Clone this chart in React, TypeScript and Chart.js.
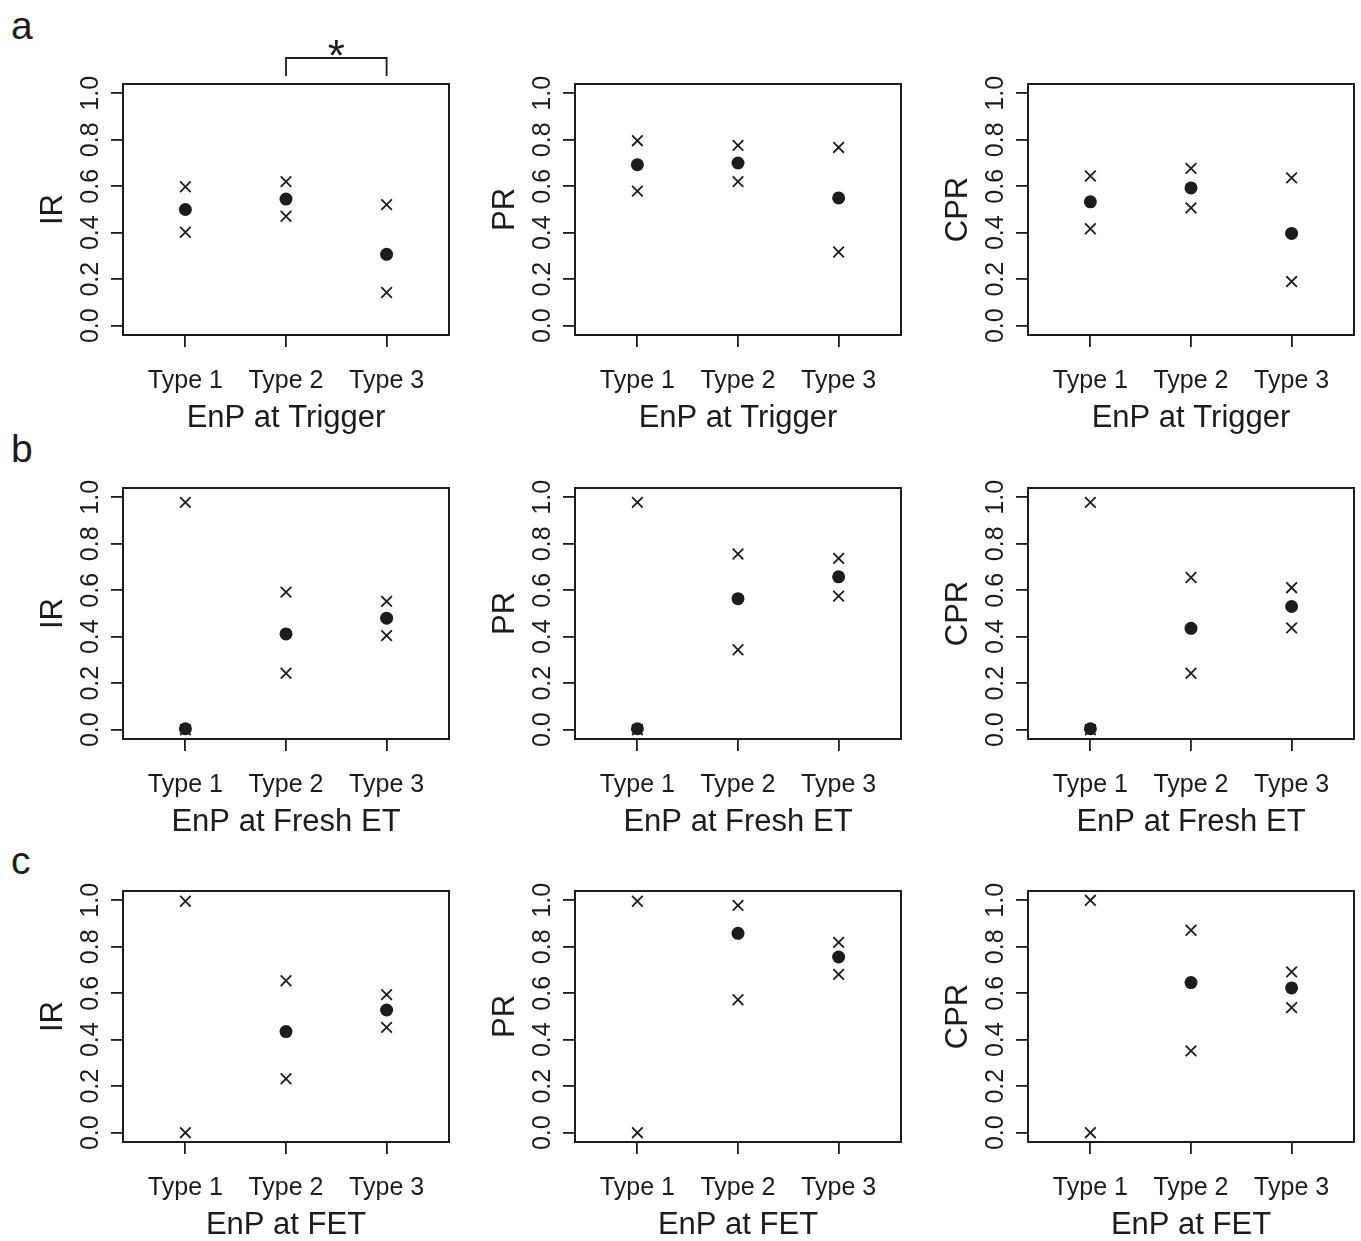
import React, { useEffect, useRef } from "react";
import { Chart, registerables } from "chart.js";

Chart.register(...registerables);

// ---------- data ----------
const categories = ["Type 1", "Type 2", "Type 3"];
const yTicks = [0, 0.2, 0.4, 0.6, 0.8, 1.0];
const metricLabels = ["IR", "PR", "CPR"];
const timingLabels = ["EnP at Trigger", "EnP at Fresh ET", "EnP at FET"];
const panelLetters = ["a", "b", "c"];

// row a: EnP at Trigger
const irTriggerEst = [0.5, 0.545, 0.307];
const irTriggerUpper = [0.598, 0.62, 0.521];
const irTriggerLower = [0.402, 0.471, 0.143];
const prTriggerEst = [0.693, 0.7, 0.55];
const prTriggerUpper = [0.796, 0.776, 0.767];
const prTriggerLower = [0.579, 0.62, 0.317];
const cprTriggerEst = [0.533, 0.593, 0.397];
const cprTriggerUpper = [0.644, 0.677, 0.636];
const cprTriggerLower = [0.417, 0.507, 0.19];

// row b: EnP at Fresh ET
const irFreshEst = [0.004, 0.412, 0.48];
const irFreshUpper = [0.978, 0.592, 0.552];
const irFreshLower = [0.0, 0.243, 0.405];
const prFreshEst = [0.004, 0.564, 0.658];
const prFreshUpper = [0.978, 0.756, 0.737];
const prFreshLower = [0.0, 0.344, 0.575];
const cprFreshEst = [0.004, 0.436, 0.53];
const cprFreshUpper = [0.978, 0.655, 0.611];
const cprFreshLower = [0.0, 0.243, 0.438];

// row c: EnP at FET (no point estimate for Type 1)
const irFetEst = [null, 0.435, 0.528];
const irFetUpper = [0.996, 0.654, 0.594];
const irFetLower = [0.0, 0.232, 0.453];
const prFetEst = [null, 0.858, 0.756];
const prFetUpper = [0.996, 0.978, 0.819];
const prFetLower = [0.0, 0.572, 0.681];
const cprFetEst = [null, 0.646, 0.623];
const cprFetUpper = [1.0, 0.871, 0.692];
const cprFetLower = [0.0, 0.352, 0.538];

// significance bracket (panel a, IR)
const sigPair = ["Type 2", "Type 3"];
const sigLabel = "*";

const rows = [
  [
    [irTriggerEst, irTriggerUpper, irTriggerLower],
    [prTriggerEst, prTriggerUpper, prTriggerLower],
    [cprTriggerEst, cprTriggerUpper, cprTriggerLower],
  ],
  [
    [irFreshEst, irFreshUpper, irFreshLower],
    [prFreshEst, prFreshUpper, prFreshLower],
    [cprFreshEst, cprFreshUpper, cprFreshLower],
  ],
  [
    [irFetEst, irFetUpper, irFetLower],
    [prFetEst, prFetUpper, prFetLower],
    [cprFetEst, cprFetUpper, cprFetLower],
  ],
];

// ---------- styling / layout ----------
const INK = "#1c1c1c";
const FONT = "'Liberation Sans', Arial, Helvetica, sans-serif";
const CANVAS_W = 452;
const CANVAS_H = 410;
const colLefts = [1, 453, 906];
const rowTops = [24, 428, 831];
const letterTops = [6, 429, 841];

const toPoints = (vals: (number | null)[]) =>
  vals
    .map((v, i) => (v === null ? null : { x: i + 1, y: v }))
    .filter((p) => p !== null);

const boxPlugin = {
  id: "plotBox",
  beforeDatasetsDraw(chart: any) {
    const { ctx, chartArea: a } = chart;
    ctx.save();
    ctx.strokeStyle = INK;
    ctx.lineWidth = 2;
    ctx.strokeRect(a.left, a.top, a.right - a.left, a.bottom - a.top);
    ctx.restore();
  },
};

const bracketPlugin = {
  id: "sigBracket",
  afterDraw(chart: any) {
    const { ctx, chartArea: a } = chart;
    const xs = chart.scales.x;
    const x1 = xs.getPixelForValue(categories.indexOf(sigPair[0]) + 1);
    const x2 = xs.getPixelForValue(categories.indexOf(sigPair[1]) + 1);
    const yLow = a.top - 8;
    const yHigh = a.top - 26;
    ctx.save();
    ctx.strokeStyle = INK;
    ctx.lineWidth = 1.8;
    ctx.beginPath();
    ctx.moveTo(x1, yLow);
    ctx.lineTo(x1, yHigh);
    ctx.lineTo(x2, yHigh);
    ctx.lineTo(x2, yLow);
    ctx.stroke();
    ctx.fillStyle = INK;
    ctx.font = `44px ${FONT}`;
    ctx.textAlign = "center";
    ctx.textBaseline = "alphabetic";
    ctx.fillText(sigLabel, (x1 + x2) / 2, a.top - 13);
    ctx.restore();
  },
};

type PanelProps = {
  left: number;
  top: number;
  est: (number | null)[];
  upper: number[];
  lower: number[];
  yTitle: string;
  xTitle: string;
  sig: boolean;
};

function Panel({ left, top, est, upper, lower, yTitle, xTitle, sig }: PanelProps) {
  const ref = useRef<HTMLCanvasElement | null>(null);
  useEffect(() => {
    if (!ref.current) return;
    const tickFont = { family: FONT, size: 25 };
    const titleFont = { family: FONT, size: 31, lineHeight: 1 };
    const chart = new Chart(ref.current, {
      type: "scatter",
      data: {
        datasets: [
          {
            label: "estimate",
            data: toPoints(est) as any,
            pointStyle: "circle",
            pointRadius: 6.5,
            pointBackgroundColor: INK,
            pointBorderColor: INK,
            pointBorderWidth: 0,
            order: 0,
          },
          {
            label: "upper",
            data: toPoints(upper) as any,
            pointStyle: "crossRot",
            pointRadius: 7.5,
            pointBorderColor: INK,
            pointBackgroundColor: INK,
            pointBorderWidth: 1.8,
            order: 1,
          },
          {
            label: "lower",
            data: toPoints(lower) as any,
            pointStyle: "crossRot",
            pointRadius: 7.5,
            pointBorderColor: INK,
            pointBackgroundColor: INK,
            pointBorderWidth: 1.8,
            order: 2,
          },
        ],
      },
      options: {
        responsive: false,
        animation: false,
        events: [],
        layout: { autoPadding: false, padding: { left: 0, right: 4, top: 60, bottom: 0 } },
        plugins: {
          legend: { display: false },
          tooltip: { enabled: false },
        },
        scales: {
          x: {
            type: "linear",
            min: 0.38,
            max: 3.62,
            afterBuildTicks: (s: any) => {
              s.ticks = categories.map((_, i) => ({ value: i + 1 }));
            },
            afterFit: (s: any) => {
              s.height = CANVAS_H - 60 - 251;
              s.paddingLeft = 0;
              s.paddingRight = 0;
            },
            ticks: {
              autoSkip: false,
              minRotation: 0,
              maxRotation: 0,
              padding: 19,
              color: INK,
              font: tickFont,
              callback: (v: any) => categories[Math.round(Number(v)) - 1] ?? "",
            },
            grid: {
              drawOnChartArea: false,
              drawTicks: true,
              tickLength: 12,
              color: INK,
              lineWidth: 1.8,
            },
            border: { display: false },
            title: {
              display: true,
              text: xTitle,
              color: INK,
              font: titleFont,
              padding: { top: 0, bottom: 0 },
            },
          },
          y: {
            type: "linear",
            min: -0.04,
            max: 1.04,
            afterBuildTicks: (s: any) => {
              s.ticks = yTicks.map((v) => ({ value: v }));
            },
            afterFit: (s: any) => {
              s.width = 122;
              s.paddingTop = 0;
              s.paddingBottom = 0;
            },
            ticks: {
              autoSkip: false,
              minRotation: 90,
              maxRotation: 90,
              crossAlign: "center",
              padding: 3,
              color: INK,
              font: tickFont,
              callback: (v: any) => Number(v).toFixed(1),
            },
            grid: {
              drawOnChartArea: false,
              drawTicks: true,
              tickLength: 12,
              color: INK,
              lineWidth: 1.8,
            },
            border: { display: false },
            title: {
              display: true,
              text: yTitle,
              color: INK,
              font: titleFont,
              padding: { top: 37, bottom: 0 },
            },
          },
        },
      } as any,
      plugins: sig ? [boxPlugin, bracketPlugin] : [boxPlugin],
    });
    return () => chart.destroy();
  }, []);
  return (
    <canvas
      ref={ref}
      width={CANVAS_W}
      height={CANVAS_H}
      style={{ position: "absolute", left, top, width: CANVAS_W, height: CANVAS_H }}
    />
  );
}

export default function App() {
  return (
    <div
      style={{
        position: "absolute",
        left: 0,
        top: 0,
        width: 1361,
        height: 1241,
        background: "#ffffff",
        overflow: "hidden",
      }}
    >
      {panelLetters.map((letter, r) => (
        <div
          key={letter}
          style={{
            position: "absolute",
            left: 11,
            top: letterTops[r],
            fontFamily: FONT,
            fontSize: 39,
            lineHeight: "39px",
            color: INK,
          }}
        >
          {letter}
        </div>
      ))}
      {rows.map((row, r) =>
        row.map((triple, c) => (
          <Panel
            key={`${r}-${c}`}
            left={colLefts[c]}
            top={rowTops[r]}
            est={triple[0] as (number | null)[]}
            upper={triple[1] as number[]}
            lower={triple[2] as number[]}
            yTitle={metricLabels[c]}
            xTitle={timingLabels[r]}
            sig={r === 0 && c === 0}
          />
        ))
      )}
    </div>
  );
}
